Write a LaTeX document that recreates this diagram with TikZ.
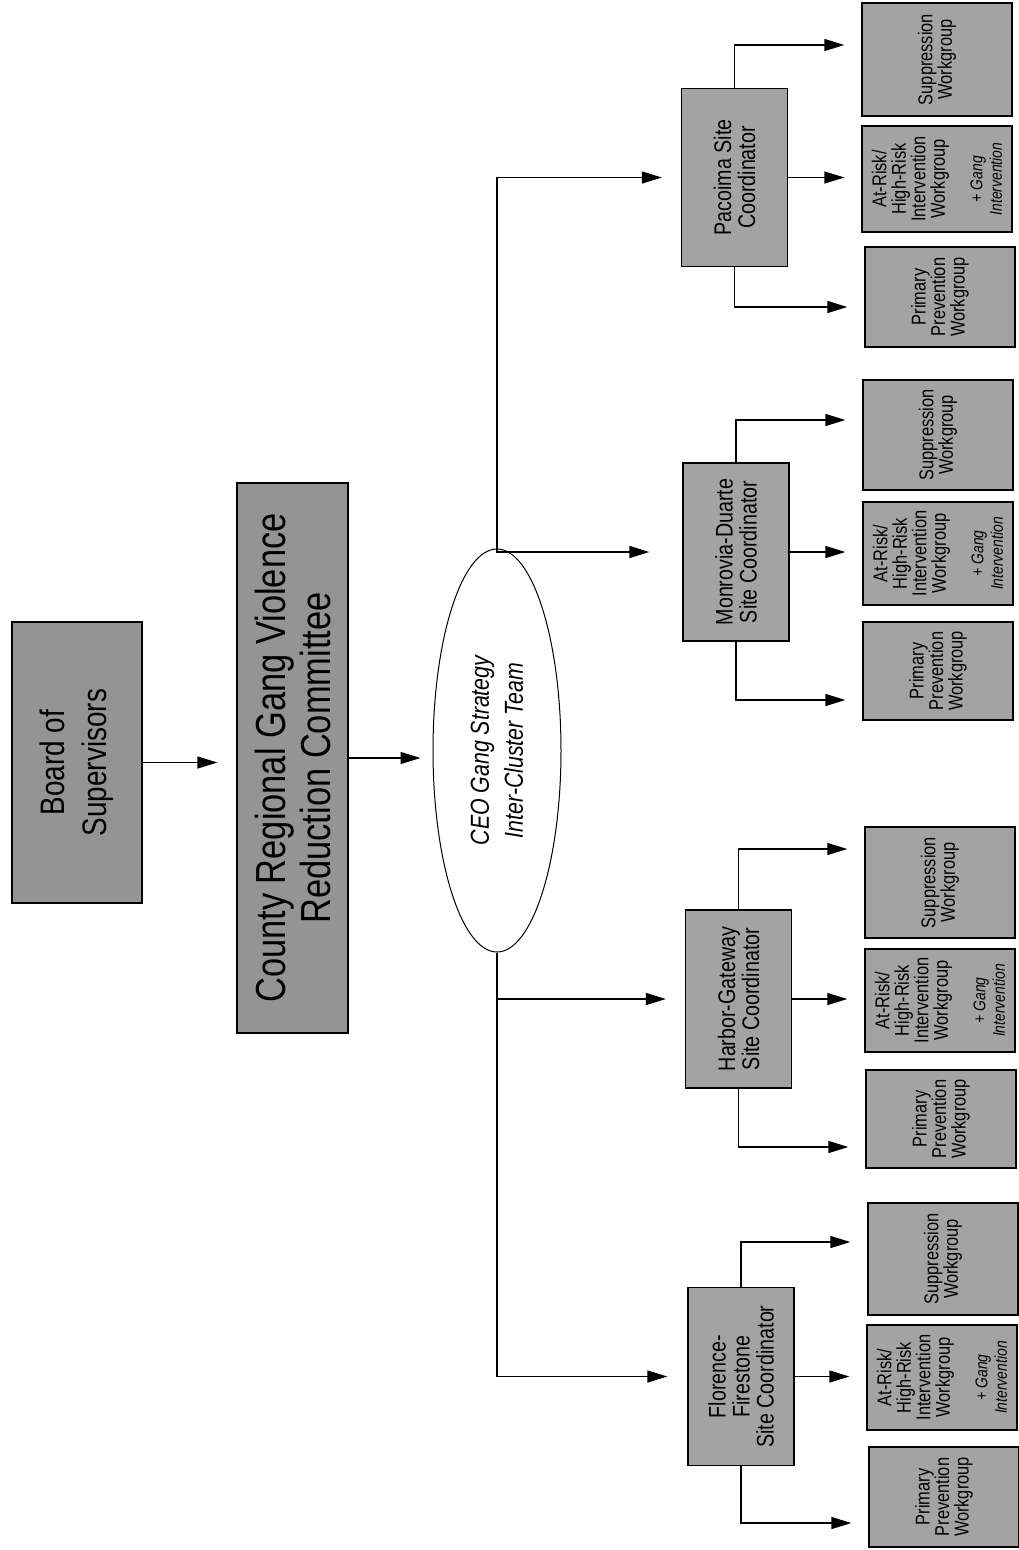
\documentclass[tikz,border=0pt]{standalone}
\usepackage{fontspec}
\setmainfont{Liberation Sans}[FakeStretch=0.82]
\usetikzlibrary{shapes.geometric, arrows.meta}
\tikzstyle{topbox} = [rectangle, rotate=90, align=center, draw=black, line width=1.3pt, fill=black!42, font=\fontsize{34}{42}\selectfont]
\tikzstyle{team} = [ellipse, rotate=90, align=center, draw=black, line width=1pt, fill=white, minimum width=403pt, minimum height=128pt, font=\fontsize{26}{34}\selectfont\itshape]
\tikzstyle{site} = [rectangle, rotate=90, align=center, draw=black, line width=1.3pt, fill=black!36, minimum width=178pt, minimum height=106pt, font=\fontsize{24}{24}\selectfont]
\tikzstyle{work} = [rectangle, rotate=90, align=center, draw=black, line width=1.3pt, fill=black!36, minimum height=150pt, font=\fontsize{20}{19.5}\selectfont]
\tikzstyle{arrow} = [line width=1.3pt, -{Triangle[length=20pt,width=12pt]}, shorten >=17pt]
\newcommand{\gangfont}{\fontsize{17}{19.5}\selectfont\itshape}
\newcommand{\gangint}{\\[18pt]\gangfont + Gang\\\gangfont Intervention}

\begin{document}
\begin{tikzpicture}[x=1pt, y=-1pt]
\useasboundingbox (0,0) rectangle (1019,1550);
\node(board)[topbox, minimum width=281pt, minimum height=130pt] at (77,762.5) {Board of\\Supervisors};
\node(county)[topbox, minimum width=550pt, minimum height=111pt, font=\fontsize{42}{45}\selectfont] at (292.5,758) {County Regional Gang Violence\\Reduction Committee};
\node(ceo)[team] at (497,750.5) {CEO Gang Strategy\\Inter-Cluster Team};
\draw[arrow, shorten >=19pt] (board.south) -- (board.south -| county.north);
\draw[arrow, shorten >=12pt] (county.south) -- (county.south -| ceo.north);

\node(pac)[site] at (734.5,177.5) {Pacoima Site\\Coordinator};
\node(mon)[site] at (736,552) {Monrovia-Duarte\\Site Coordinator};
\node(har)[site] at (738.5,999) {Harbor-Gateway\\Site Coordinator};
\node(flo)[site] at (741,1376.5) {Florence-\\Firestone\\Site Coordinator};
\draw[arrow, shorten >=19pt] (ceo.east) |- (pac);
\draw[arrow, shorten >=33pt] (ceo.east) |- (mon);
\draw[arrow, shorten >=19pt] (ceo.west) |- (har);
\draw[arrow, shorten >=20pt] (ceo.west) |- (flo);

\node(pacsup)[work, minimum width=113pt] at (937,59.5) {Suppression\\Workgroup};
\node(pacrisk)[work, minimum width=106pt] at (937,179) {At-Risk/\\High-Risk\\Intervention\\Workgroup\gangint};
\node(pacprim)[work, minimum width=100pt] at (940,297) {Primary\\Prevention\\Workgroup};
\draw[arrow] (pac.east) |- ([yshift=14.5pt]pacsup.north);
\draw[arrow] (pac.south) -- (pac.south -| pacrisk.north);
\draw[arrow] (pac.west) |- ([yshift=-10pt]pacprim.north);

\node(monsup)[work, minimum width=110pt] at (938,435) {Suppression\\Workgroup};
\node(monrisk)[work, minimum width=103pt] at (938,553.5) {At-Risk/\\High-Risk\\Intervention\\Workgroup\gangint};
\node(monprim)[work, minimum width=98pt] at (938,671) {Primary\\Prevention\\Workgroup};
\draw[arrow] (mon.east) |- ([yshift=15pt]monsup.north);
\draw[arrow] (mon.south) -- (mon.south -| monrisk.north);
\draw[arrow] (mon.west) |- ([yshift=-29pt]monprim.north);

\node(harsup)[work, minimum width=111pt] at (940,882.5) {Suppression\\Workgroup};
\node(harrisk)[work, minimum width=103pt] at (940,1000.5) {At-Risk/\\High-Risk\\Intervention\\Workgroup\gangint};
\node(harprim)[work, minimum width=98pt] at (941,1119) {Primary\\Prevention\\Workgroup};
\draw[arrow] (har.east) |- ([yshift=33.5pt]harsup.north);
\draw[arrow] (har.south) -- (har.south -| harrisk.north);
\draw[arrow] (har.west) |- ([yshift=-28pt]harprim.north);

\node(flosup)[work, minimum width=112pt] at (943,1259) {Suppression\\Workgroup};
\node(florisk)[work, minimum width=105pt] at (942,1377.5) {At-Risk/\\High-Risk\\Intervention\\Workgroup\gangint};
\node(floprim)[work, minimum width=100pt] at (944,1497) {Primary\\Prevention\\Workgroup};
\draw[arrow] (flo.east) |- ([yshift=17pt]flosup.north);
\draw[arrow] (flo.south) -- (flo.south -| florisk.north);
\draw[arrow] (flo.west) |- ([yshift=-26pt]floprim.north);
\end{tikzpicture}
\end{document}
